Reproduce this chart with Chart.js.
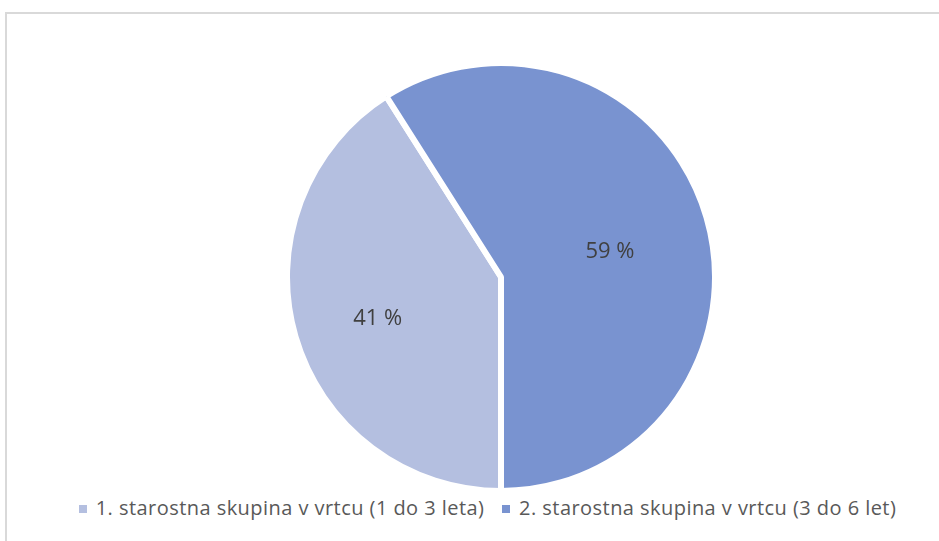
<!DOCTYPE html>
<html>
<head>
<meta charset="utf-8">
<script src="https://cdn.jsdelivr.net/npm/chart.js@4.4.0/dist/chart.umd.min.js"></script>
<style>
    html, body { margin: 0; padding: 0; background: #fff; }
    body { width: 939px; height: 541px; position: relative; overflow: hidden; font-family: "Open Sans", Lato, sans-serif; }
    #frame { position: absolute; left: 5px; top: 12px; width: 940px; height: 540px; border-top: 2px solid #d9d9d9; border-left: 2px solid #d9d9d9; }
    #pieWrap { position: absolute; left: 284px; top: 60px; width: 434px; height: 434px; }
    #legend { position: absolute; left: 0; top: 494px; width: 975px; text-align: center; color: #595959; font-size: 20px; letter-spacing: 0.45px; white-space: nowrap; }
    #legend span.item { display: inline-block; margin: 0 6px; }
    #legend span.box { display: inline-block; width: 8px; height: 8px; margin-right: 9px; vertical-align: 2px; }
</style>
</head>
<body>
<div id="frame"></div>
<div id="pieWrap"><canvas id="pieChart"></canvas></div>
<div id="legend"></div>
<script>
document.addEventListener("DOMContentLoaded", function() {
    // Data
    const categories = ["1. starostna skupina v vrtcu (1 do 3 leta)", "2. starostna skupina v vrtcu (3 do 6 let)"];
    const shares = [41, 59];
    const sliceColors = ["#b4bfe0", "#7993d0"];
    const labelRadius = [0.6, 0.53];

    // Percent labels inside the slices
    const sliceLabels = {
        id: "sliceLabels",
        afterDatasetsDraw(chart) {
            const ctx = chart.ctx;
            const meta = chart.getDatasetMeta(0);
            ctx.save();
            ctx.font = "22px 'Open Sans', Lato, sans-serif";
            ctx.fillStyle = "#404040";
            ctx.textAlign = "center";
            ctx.textBaseline = "middle";
            meta.data.forEach((arc, i) => {
                const p = arc.getProps(["x", "y", "startAngle", "endAngle", "outerRadius"], true);
                const mid = (p.startAngle + p.endAngle) / 2;
                const r = p.outerRadius * labelRadius[i];
                ctx.fillText(shares[i] + " %", p.x + Math.cos(mid) * r, p.y + Math.sin(mid) * r + 6);
            });
            ctx.restore();
        }
    };

    new Chart(document.getElementById("pieChart"), {
        type: "pie",
        data: {
            labels: categories,
            datasets: [{
                data: shares,
                backgroundColor: sliceColors,
                borderColor: "#ffffff",
                borderWidth: 6
            }]
        },
        options: {
            responsive: true,
            maintainAspectRatio: false,
            animation: false,
            rotation: 180,
            plugins: {
                legend: { display: false },
                tooltip: { enabled: false }
            }
        },
        plugins: [sliceLabels]
    });

    // Legend
    document.getElementById("legend").innerHTML = categories.map((c, i) => `
        <span class="item"><span class="box" style="background:${sliceColors[i]}"></span>${c}</span>
    `).join("");
});
</script>
</body>
</html>
